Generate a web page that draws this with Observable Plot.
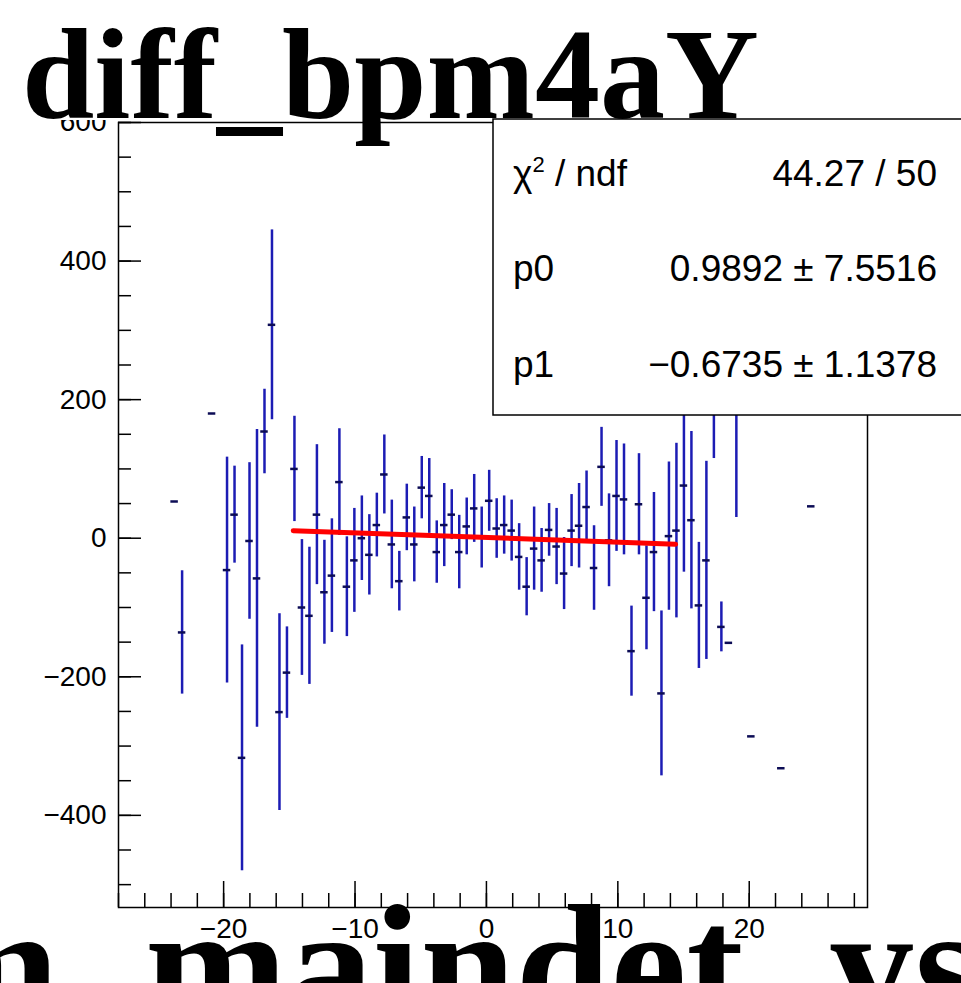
<!DOCTYPE html>
<html><head><meta charset="utf-8">
<script src="https://cdn.jsdelivr.net/npm/d3@7"></script>
<script src="https://cdn.jsdelivr.net/npm/@observablehq/plot@0.6"></script>
<style>html,body{margin:0;padding:0;background:#fff;overflow:hidden}</style>
</head><body><div id="chart"></div>
<script>
// Profile bins (bin centers), means and errors
const binX = [-23.73,-23.16,-20.88,-19.74,-19.17,-18.60,-18.03,-17.46,-16.89,-16.32,-15.75,-15.18,-14.61,-14.04,-13.47,-12.90,-12.33,-11.76,-11.19,-10.62,-10.05,-9.48,-8.91,-8.34,-7.77,-7.20,-6.63,-6.06,-5.49,-4.92,-4.35,-3.78,-3.21,-2.64,-2.07,-1.50,-0.93,-0.36,0.21,0.78,1.35,1.92,2.49,3.06,3.63,4.20,4.77,5.34,5.91,6.48,7.05,7.62,8.19,8.76,9.33,9.90,10.47,11.04,11.61,12.18,12.75,13.32,13.89,14.46,15.03,15.60,16.17,16.74,17.31,17.88,18.45,19.02,20.16,22.44,24.72];
const binMean = [53,-136,180,-46,34,-317,-4,-58,154,308,-251,-194,100,-100,-112,34,-78,-54,81,-70,-32,0,-24,19,92,-9,-62,30,-9,73,61,-20,19,34,-20,17,43,1,54,14,19,11,-27,-70,-15,-32,12,-12,-51,11,18,45,-43,103,-3,61,56,-163,49,-86,-20,-224,3,11,76,26,-97,-32,245,-128,-151,230,-286,-332,46];
const binErr = [0,89,0,163,70,163,113,215,61,137,142,66,76,98,99,101,75,82,77,72,75,61,58,46,57,64,43,48,54,45,54,45,60,36,53,41,49,44,44,43,42,44,48,42,60,46,38,55,52,52,61,52,61,57,67,80,80,65,73,75,86,119,107,126,125,128,91,143,130,36,0,200,0,0,0];
const binHalfWidth = 0.285;

const xTicks = [-20,-10,0,10,20];
const yTicks = [-400,-200,0,200,400,600];
const xMinorStep = 2, yMinorStep = 50;

const fitRange = [-14.7, 14.4];
const fitParams = [0.9892, -0.6735];

const titleText = "diff_bpm4aY";
const xTitleText = "m_maindet_ys";
const statLabels = ["χ", "p0", "p1"];
const statValues = ["44.27 / 50", "0.9892 ± 7.5516", "−0.6735 ± 1.1378"];

const W = 961, H = 983;
const mL = 118, mR = 94, mT = 122, mB = 76;
const pw = W - mL - mR, ph = H - mT - mB;

const data = binX.map((x, i) => ({x, y: binMean[i], e: binErr[i]}));
const fit = fitRange.map(x => ({x, y: fitParams[0] + fitParams[1] * x}));
const xMinor = d3.range(-28, 29.01, xMinorStep);
const yMinor = d3.range(-500, 600.01, yMinorStep);

const blue = "#1c1cb4", dark = "#0c0c55";

const svg = Plot.plot({
  width: W, height: H,
  marginLeft: mL, marginRight: mR, marginTop: mT, marginBottom: mB,
  style: {fontFamily: "'Liberation Sans', Arial, sans-serif", fontSize: "28px", color: "black", background: "white"},
  x: {domain: [-28, 29], axis: null},
  y: {domain: [-533, 600], axis: null},
  marks: [
    Plot.ruleX(data.filter(d => d.e > 0), {x: "x", y1: d => d.y - d.e, y2: d => d.y + d.e, stroke: blue, strokeWidth: 2.5}),
    Plot.ruleY(data, {y: "y", x1: d => d.x - binHalfWidth, x2: d => d.x + binHalfWidth, stroke: dark, strokeWidth: 2.5}),
    Plot.line(fit, {x: "x", y: "y", stroke: "#ff0000", strokeWidth: 5}),
    Plot.tickY(yMinor, {y: d => d, insetRight: pw - 13, stroke: "black", strokeWidth: 1.5}),
    Plot.tickY(yTicks, {y: d => d, insetRight: pw - 23, stroke: "black", strokeWidth: 1.5}),
    Plot.tickX(xMinor, {x: d => d, insetTop: ph - 14, stroke: "black", strokeWidth: 1.5}),
    Plot.tickX(xTicks, {x: d => d, insetTop: ph - 26, stroke: "black", strokeWidth: 1.5}),
    Plot.axisY({ticks: yTicks, tickSize: 0, tickPadding: 12, fontSize: 28, label: null}),
    Plot.axisX({ticks: xTicks, tickSize: 0, tickPadding: 11, fontSize: 28, label: null}),
    Plot.frame({stroke: "black", strokeWidth: 1.5})
  ]
});
document.getElementById("chart").appendChild(svg);

const s = d3.select(svg);
const serif = "'Liberation Serif', 'Times New Roman', serif";
// title pave
s.append("rect").attr("x", 0).attr("y", 0).attr("width", W).attr("height", 120).attr("fill", "white");
s.append("text").attr("x", 22).attr("y", 118).attr("text-anchor", "start")
  .attr("font-family", serif).attr("font-weight", "bold")
  .attr("font-size", 130).attr("fill", "black").text(titleText);

// stats box
s.append("rect").attr("x", 493).attr("y", 119).attr("width", 480).attr("height", 296)
  .attr("fill", "white").attr("stroke", "black").attr("stroke-width", 1.5);
const rowBase = [186, 281, 377];
const fs = 37;
statLabels.forEach((lab, i) => {
  const t = s.append("text").attr("x", 513).attr("y", rowBase[i]).attr("text-anchor", "start")
    .attr("font-size", fs).attr("fill", "black");
  if (i === 0) {
    t.append("tspan").text(lab);
    t.append("tspan").attr("font-size", 22).attr("dy", -14).text("2");
    t.append("tspan").attr("dy", 14).text(" / ndf");
  } else t.text(lab);
  s.append("text").attr("x", 937).attr("y", rowBase[i]).attr("text-anchor", "end")
    .attr("font-size", fs).attr("fill", "black").text(statValues[i]);
});

// x-axis title (huge, partly out of view)
s.append("text").attr("x", -83).attr("y", 1023).attr("text-anchor", "start")
  .attr("font-family", serif).attr("font-weight", "bold")
  .attr("font-size", 171).attr("fill", "black").text(xTitleText);
</script>
</body></html>
